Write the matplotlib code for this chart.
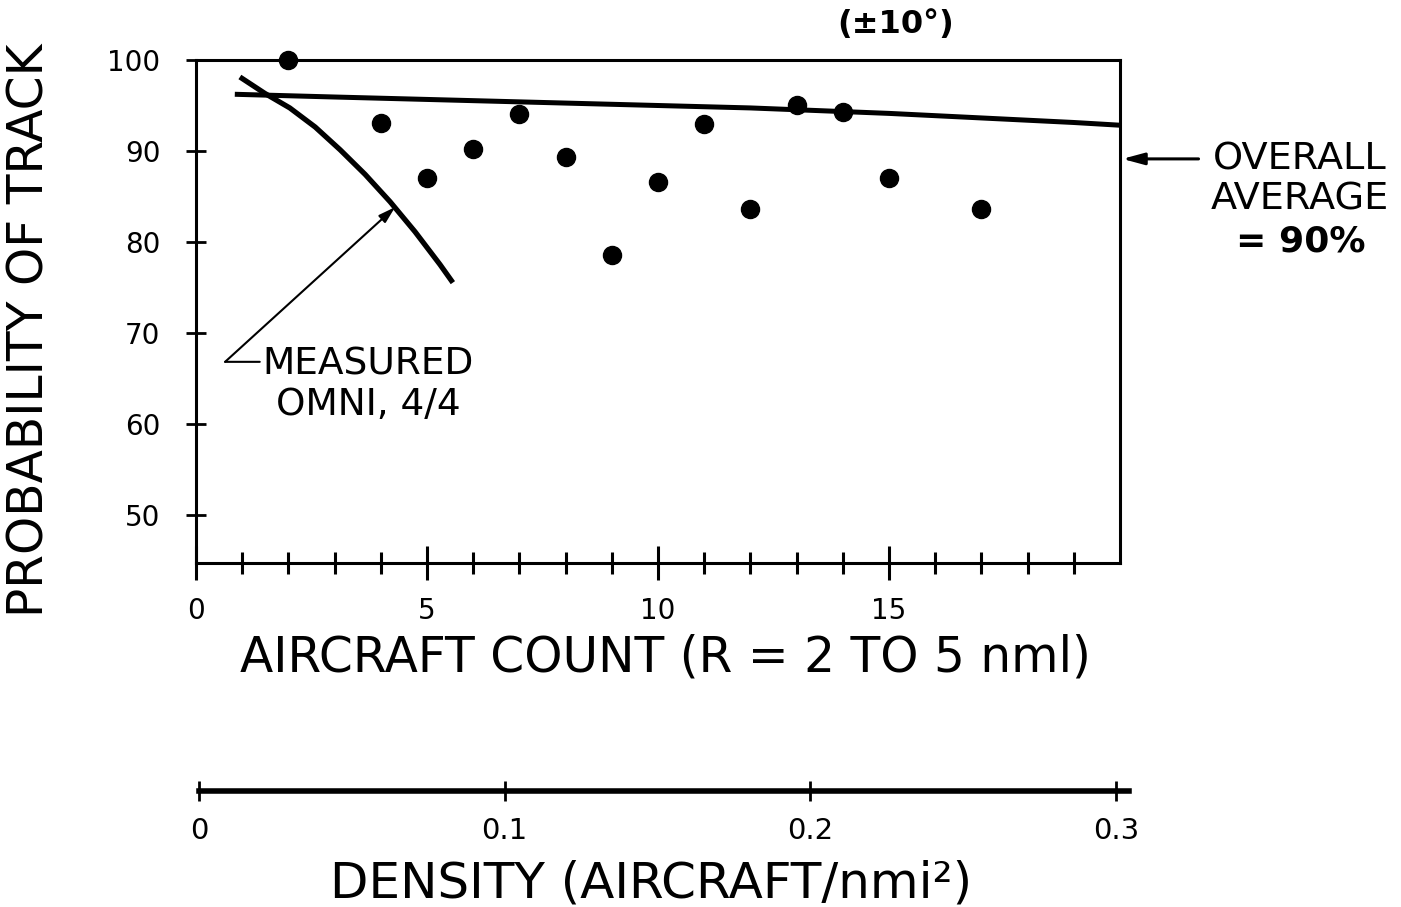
import matplotlib
matplotlib.use("Agg")
import matplotlib.pyplot as plt
from matplotlib.ticker import FixedLocator, NullLocator

plt.rcParams['font.family'] = ['DejaVu Sans']

# ---- data ----
count_pts = [2, 4, 5, 6, 7, 8, 9, 10, 11, 12, 13, 14, 15, 17]
prob_pts = [100.0, 93.0, 87.0, 90.2, 94.0, 89.3, 78.5, 86.6, 92.9, 83.6, 95.0, 94.3, 87.0, 83.6]

avg_x = [0.84, 3, 6, 9, 12, 15, 17, 19, 20]
avg_y = [96.2, 95.9, 95.5, 95.1, 94.7, 94.1, 93.6, 93.1, 92.8]

omni_x = [0.95, 1.49, 2.03, 2.58, 3.12, 3.66, 4.20, 4.74, 5.28, 5.56]
omni_y = [98.1, 96.3, 94.7, 92.6, 90.1, 87.4, 84.4, 81.1, 77.5, 75.5]

y_ticks = [50, 60, 70, 80, 90, 100]
x_major = [0, 5, 10, 15]
x_minor = [i for i in range(1, 20) if i % 5 != 0]
dens_ticks = [0, 0.1, 0.2, 0.3]
dens_labels = ['0', '0.1', '0.2', '0.3']

W, H = 1401, 907
fig = plt.figure(figsize=(W / 100, H / 100), dpi=100)

def rect(x0, y0, x1, y1):
    return [x0 / W, 1 - y1 / H, (x1 - x0) / W, (y1 - y0) / H]

# main axes: x 196..1120 px, y 59.7..562.5 px
ax = fig.add_axes(rect(196, 59.7, 1120, 562.5))
ax.set_xlim(0, 20)
ax.set_ylim(44.75, 100)
for s in ax.spines.values():
    s.set_linewidth(2.2)
    s.set_color('black')

ax.xaxis.set_major_locator(FixedLocator(x_major))
ax.xaxis.set_minor_locator(FixedLocator(x_minor))
ax.set_xticklabels([str(v) for v in x_major])
ax.tick_params(axis='x', which='major', direction='inout', length=25, width=2.2,
               labelsize=20, pad=12)
ax.tick_params(axis='x', which='minor', direction='inout', length=15.5, width=2.2)
ax.yaxis.set_major_locator(FixedLocator(y_ticks))
ax.yaxis.set_minor_locator(NullLocator())
ax.set_yticklabels([str(v) for v in y_ticks])
ax.tick_params(axis='y', which='major', direction='inout', length=15, width=2.0,
               labelsize=20, pad=18)

# data
ax.plot(avg_x, avg_y, color='black', lw=3.6, solid_capstyle='butt')
ax.plot(omni_x, omni_y, color='black', lw=3.8, solid_capstyle='butt',
        solid_joinstyle='round')
ax.plot(count_pts, prob_pts, 'o', color='black', markersize=13, clip_on=False)

# measured omni annotation
ax.annotate("", xy=(4.31, 83.8), xytext=(0.63, 66.8),
            arrowprops=dict(arrowstyle='-|>,head_length=1.0,head_width=0.3',
                            color='black', lw=1.5, shrinkA=0, shrinkB=0))
ax.annotate("", xy=(1.38, 66.8), xytext=(0.63, 66.8),
            arrowprops=dict(arrowstyle='-', color='black', lw=1.5,
                            shrinkA=0, shrinkB=0))
ax.text(3.72, 64.3, "MEASURED\nOMNI, 4/4", ha='center', va='center',
        fontsize=27, linespacing=1.15, multialignment='center')

# overall average annotation
ax.annotate("", xy=(20.05, 89.1), xytext=(21.7, 89.1), annotation_clip=False,
            arrowprops=dict(arrowstyle='-|>,head_length=1.3,head_width=0.35',
                            color='black', lw=2.2, shrinkA=0, shrinkB=0))
fig.text(1300 / W, 1 - 160 / H, "OVERALL", ha='center', va='center', fontsize=27.5)
fig.text(1300 / W, 1 - 199 / H, "AVERAGE", ha='center', va='center', fontsize=27.5)
fig.text(1301 / W, 1 - 241 / H, "= 90%", ha='center', va='center', fontsize=26,
         fontweight='bold')

fig.text(896 / W, 1 - 25 / H, "(±10°)", ha='center', va='center', fontsize=23,
         fontweight='bold')

fig.text(30 / W, 1 - 330 / H, "PROBABILITY OF TRACK", rotation=90,
         ha='center', va='center', fontsize=35)
fig.text(665 / W, 1 - 658 / H, "AIRCRAFT COUNT (R = 2 TO 5 nml)",
         ha='center', va='center', fontsize=35)

# density axis
axd = fig.add_axes([199 / W, 1 - 791 / H, (1129 - 199) / W, 0.0001])
axd.set_facecolor('none')
axd.set_xlim(0, 0.3 * (1129 - 199) / (1116 - 199))
for k in ['top', 'left', 'right']:
    axd.spines[k].set_visible(False)
axd.spines['bottom'].set_linewidth(4)
axd.set_yticks([])
axd.set_xticks(dens_ticks)
axd.set_xticklabels(dens_labels)
axd.tick_params(axis='x', direction='inout', length=14, width=2.0,
                labelsize=21, pad=12)
fig.text(651 / W, 1 - 884 / H, "DENSITY (AIRCRAFT/nmi²)", ha='center',
         va='center', fontsize=36)

fig.savefig("out.png", dpi=100)
